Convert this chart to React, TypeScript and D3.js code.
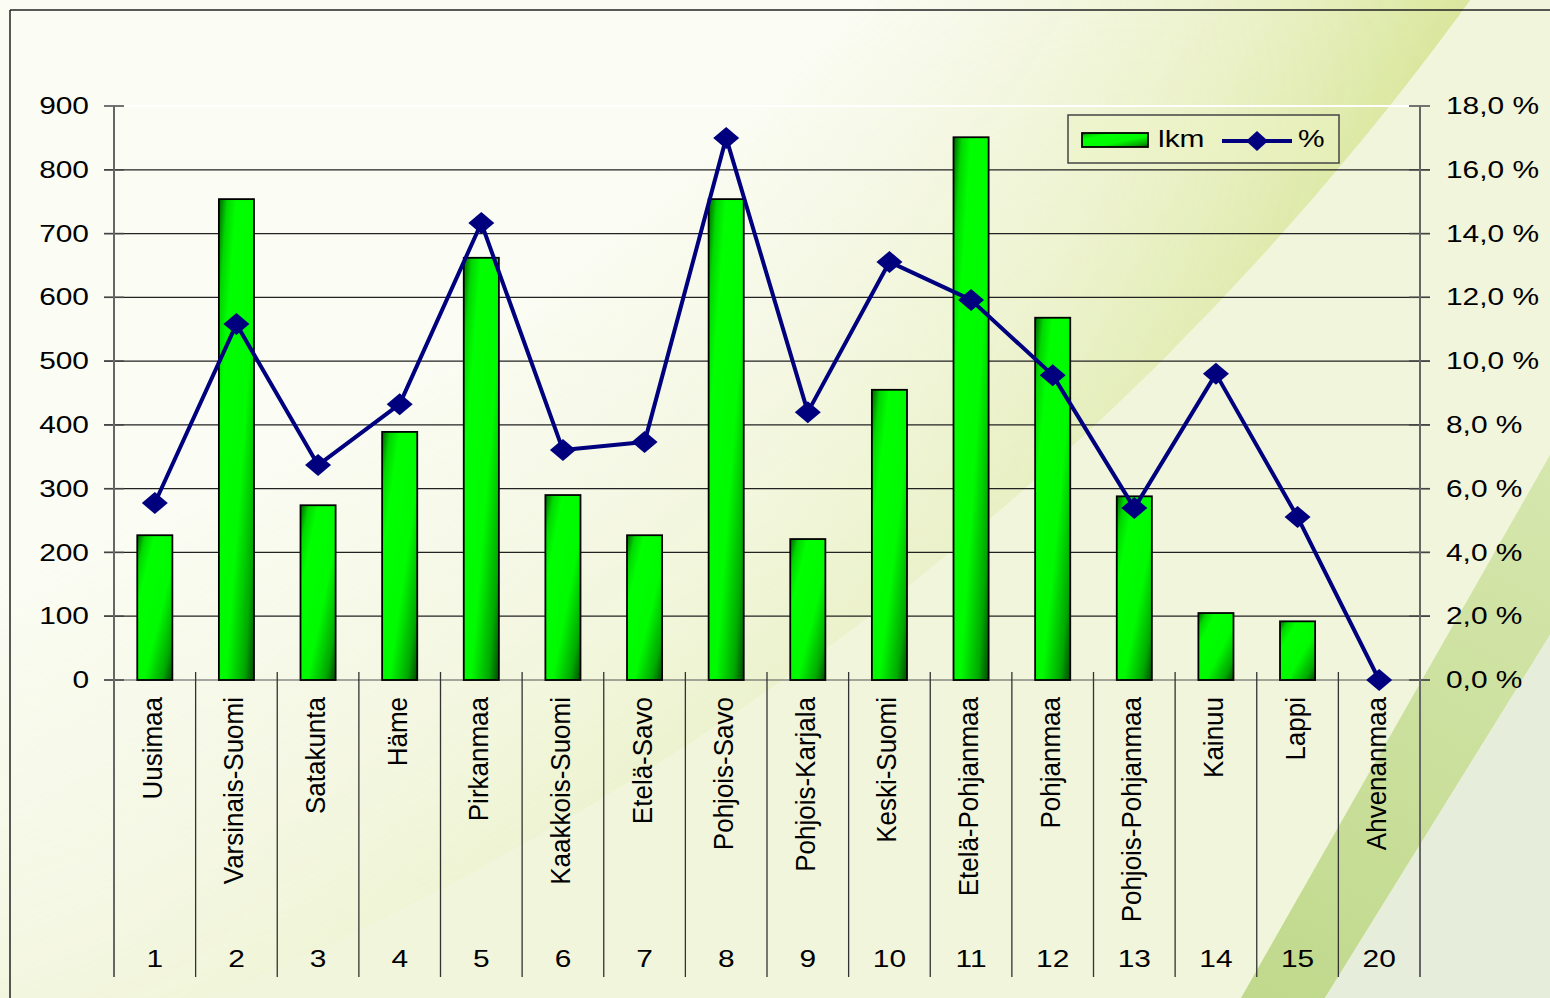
import React from "react";
import * as d3 from "d3";

const categories = [
  "Uusimaa", "Varsinais-Suomi", "Satakunta", "Häme", "Pirkanmaa", "Kaakkois-Suomi",
  "Etelä-Savo", "Pohjois-Savo", "Pohjois-Karjala", "Keski-Suomi", "Etelä-Pohjanmaa",
  "Pohjanmaa", "Pohjois-Pohjanmaa", "Kainuu", "Lappi", "Ahvenanmaa",
];
const codes = ["1", "2", "3", "4", "5", "6", "7", "8", "9", "10", "11", "12", "13", "14", "15", "20"];
const counts = [227, 754, 274, 389, 662, 290, 227, 754, 221, 455, 851, 568, 288, 105, 92, 0];
const percents = [5.55, 11.16, 6.74, 8.65, 14.33, 7.21, 7.46, 17.0, 8.4, 13.11, 11.92, 9.56, 5.39, 9.6, 5.11, 0];
const leftTicks = [0, 100, 200, 300, 400, 500, 600, 700, 800, 900];
const rightTicks = [0, 2, 4, 6, 8, 10, 12, 14, 16, 18];
const legendLabels = ["lkm", "%"];

const W = 1550;
const H = 998;
const X0 = 114;
const X1 = 1420;
const Y0 = 680;
const Y1 = 106;
const AXIS_BOTTOM = 977;
const FONT = "'Liberation Sans', Arial, sans-serif";
const NAVY = "#00007f";

export default function App() {
  const x = d3.scaleBand<string>().domain(categories).range([X0, X1]).paddingInner(0).paddingOuter(0);
  const yL = d3.scaleLinear().domain([0, 900]).range([Y0, Y1]);
  const yR = d3.scaleLinear().domain([0, 18]).range([Y0, Y1]);
  const bw = x.bandwidth();
  const barW = bw * 0.43;
  const cx = (c: string) => (x(c) as number) + bw / 2;
  const fmtPct = (v: number) => d3.format(".1f")(v).replace(".", ",") + " %";

  const linePts: [number, number][] = categories.map((c, i) => [cx(c), yR(percents[i])]);
  const lineGen = d3.line();
  const diamond = (px: number, py: number, hw = 13, hh = 11) =>
    `M${px},${py - hh}L${px + hw},${py}L${px},${py + hh}L${px - hw},${py}Z`;

  const boundaries = d3.range(categories.length + 1).map((i) => X0 + i * bw);

  return (
    <svg width={W} height={H} style={{ position: "absolute", left: 0, top: 0 }} fontFamily={FONT}>
      <defs>
        <linearGradient id="barGrad" x1="0" y1="0" x2="1" y2="1">
          <stop offset="0" stopColor="#006000" />
          <stop offset="0.12" stopColor="#00d800" />
          <stop offset="0.25" stopColor="#00ff00" />
          <stop offset="0.6" stopColor="#00fa00" />
          <stop offset="0.85" stopColor="#00a800" />
          <stop offset="1" stopColor="#004a00" />
        </linearGradient>
        <radialGradient id="arcGrad" gradientUnits="userSpaceOnUse" cx={-936} cy={-1746} r={2973}>
          <stop offset="0" stopColor="#dce8a0" stopOpacity={0} />
          <stop offset="0.84" stopColor="#dce8a0" stopOpacity={0} />
          <stop offset="0.95" stopColor="#dbe79e" stopOpacity={0.6} />
          <stop offset="1" stopColor="#d6e494" stopOpacity={0.9} />
        </radialGradient>
        <linearGradient id="maskGrad" gradientUnits="userSpaceOnUse" x1={200} y1={1000} x2={1400} y2={0}>
          <stop offset="0" stopColor="#fff" stopOpacity={0.3} />
          <stop offset="0.55" stopColor="#fff" stopOpacity={0.5} />
          <stop offset="1" stopColor="#fff" stopOpacity={1} />
        </linearGradient>
        <mask id="arcMask">
          <rect x={0} y={0} width={W} height={H} fill="url(#maskGrad)" />
        </mask>
        <linearGradient id="band2Grad" gradientUnits="userSpaceOnUse" x1={1550} y1={450} x2={1250} y2={998}>
          <stop offset="0" stopColor="#d6e7ae" />
          <stop offset="1" stopColor="#c0d98c" />
        </linearGradient>
      </defs>

      {/* background */}
      <rect x={0} y={0} width={W} height={H} fill="#f0f5dc" />
      <circle cx={-936} cy={-1746} r={2973} fill="#fbfcf4" />
      <circle cx={-936} cy={-1746} r={2973} fill="url(#arcGrad)" mask="url(#arcMask)" />
      <polygon points="1550,455 1241,998 1325,998 1550,635" fill="url(#band2Grad)" />
      <polygon points="1550,635 1325,998 1550,998" fill="#e6eedb" />

      {/* outer frame */}
      <line x1={10} y1={10} x2={W} y2={10} stroke="#222" strokeWidth={1.5} />
      <line x1={10} y1={10} x2={10} y2={H} stroke="#222" strokeWidth={1.5} />

      {/* gridlines */}
      {leftTicks.map((t) => (
        <line key={"g" + t} x1={104} x2={1430} y1={yL(t)} y2={yL(t)}
          stroke={t === 900 ? "#ffffff" : t === 0 ? "#555" : "#222"} strokeWidth={t === 900 ? 2 : 1.2} />
      ))}
      {leftTicks.map((t) => (
        <line key={"tl" + t} x1={104} x2={124} y1={yL(t)} y2={yL(t)} stroke="#444" strokeWidth={1.5} />
      ))}
      {rightTicks.map((t) => (
        <line key={"tr" + t} x1={1409} x2={1430} y1={yR(t)} y2={yR(t)} stroke="#444" strokeWidth={1.5} />
      ))}

      {/* category separators */}
      {boundaries.map((b, i) => (
        <line key={"b" + i} x1={b} x2={b} y1={i === 0 || i === categories.length ? Y1 : 672} y2={AXIS_BOTTOM}
          stroke={i === 0 || i === categories.length ? "#666" : "#333"} strokeWidth={i === 0 || i === categories.length ? 2 : 1.3} />
      ))}

      {/* bars */}
      {categories.map((c, i) =>
        counts[i] > 0 ? (
          <rect key={"bar" + i} x={cx(c) - barW / 2} y={yL(counts[i])} width={barW} height={Y0 - yL(counts[i])}
            fill="url(#barGrad)" stroke="#000" strokeWidth={1.8} />
        ) : null
      )}

      {/* line */}
      <path d={lineGen(linePts) || ""} fill="none" stroke={NAVY} strokeWidth={4} strokeLinejoin="round" />
      {linePts.map((p, i) => (
        <path key={"d" + i} d={diamond(p[0], p[1])} fill={NAVY} />
      ))}

      {/* left axis labels */}
      {leftTicks.map((t) => (
        <g key={"ll" + t} transform={`translate(89,${yL(t)}) scale(1.3,1)`}>
          <text textAnchor="end" dy="0.35em" fontSize={23} fill="#000">{t}</text>
        </g>
      ))}
      {/* right axis labels */}
      {rightTicks.map((t) => (
        <g key={"rl" + t} transform={`translate(1446,${yR(t)}) scale(1.3,1)`}>
          <text textAnchor="start" dy="0.35em" fontSize={23} fill="#000">{fmtPct(t)}</text>
        </g>
      ))}

      {/* category labels */}
      {categories.map((c) => (
        <g key={"cl" + c} transform={`translate(${cx(c) + 7},697) scale(1.08,1) rotate(-90)`}>
          <text textAnchor="end" fontSize={26} fill="#000">{c}</text>
        </g>
      ))}
      {categories.map((c, i) => (
        <g key={"cn" + c} transform={`translate(${cx(c)},967) scale(1.3,1)`}>
          <text textAnchor="middle" fontSize={23} fill="#000">{codes[i]}</text>
        </g>
      ))}

      {/* legend */}
      <rect x={1068} y={115} width={271} height={48} fill="#eef3c6" fillOpacity={0.5} stroke="#444" strokeWidth={1.5} />
      <rect x={1082} y={133} width={66} height={14} fill="url(#barGrad)" stroke="#000" strokeWidth={1.8} />
      <g transform="translate(1158,147) scale(1.3,1)">
        <text fontSize={23} fill="#000">{legendLabels[0]}</text>
      </g>
      <line x1={1222} x2={1292} y1={141} y2={141} stroke={NAVY} strokeWidth={4} />
      <path d={diamond(1257, 141, 11, 10)} fill={NAVY} />
      <g transform="translate(1298,147) scale(1.3,1)">
        <text fontSize={23} fill="#000">{legendLabels[1]}</text>
      </g>
    </svg>
  );
}
